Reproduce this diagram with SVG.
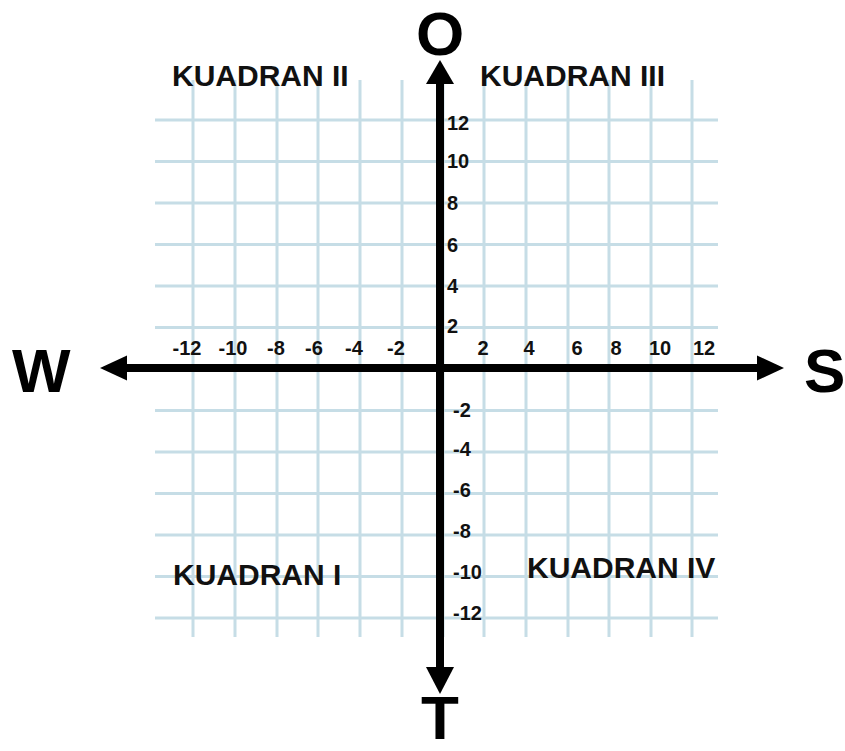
<svg xmlns="http://www.w3.org/2000/svg" width="845" height="751" viewBox="0 0 845 751">
<style>
.grid line{stroke:#c6dde6;stroke-width:3}
.axis{stroke:#000;stroke-width:8;fill:none}
.head{fill:#000}
.q{font-family:"Liberation Sans",Arial,sans-serif;font-weight:bold;font-size:30px;fill:#111}
.t{font-family:"Liberation Sans",Arial,sans-serif;font-weight:bold;font-size:20px;fill:#111}
.big{font-family:"Liberation Sans",Arial,sans-serif;font-weight:bold;font-size:62px;fill:#000}
</style>
<rect width="845" height="751" fill="#fff"/>
<g id="grid" class="grid">
<line x1="155" y1="120" x2="718" y2="120"/>
<line x1="155" y1="161.5" x2="718" y2="161.5"/>
<line x1="155" y1="203" x2="718" y2="203"/>
<line x1="155" y1="244.5" x2="718" y2="244.5"/>
<line x1="155" y1="286" x2="718" y2="286"/>
<line x1="155" y1="327.5" x2="718" y2="327.5"/>
<line x1="155" y1="369" x2="718" y2="369"/>
<line x1="155" y1="410.5" x2="718" y2="410.5"/>
<line x1="155" y1="452" x2="718" y2="452"/>
<line x1="155" y1="493.5" x2="718" y2="493.5"/>
<line x1="155" y1="535" x2="718" y2="535"/>
<line x1="155" y1="576.5" x2="718" y2="576.5"/>
<line x1="155" y1="618" x2="718" y2="618"/>
<line x1="193" y1="80" x2="193" y2="637"/>
<line x1="235" y1="80" x2="235" y2="637"/>
<line x1="277" y1="80" x2="277" y2="637"/>
<line x1="318" y1="80" x2="318" y2="637"/>
<line x1="360" y1="80" x2="360" y2="637"/>
<line x1="402" y1="80" x2="402" y2="637"/>
<line x1="443" y1="80" x2="443" y2="637"/>
<line x1="484" y1="80" x2="484" y2="637"/>
<line x1="526" y1="80" x2="526" y2="637"/>
<line x1="568" y1="80" x2="568" y2="637"/>
<line x1="609" y1="80" x2="609" y2="637"/>
<line x1="651" y1="80" x2="651" y2="637"/>
<line x1="692" y1="80" x2="692" y2="637"/>
</g>
<g id="connectors">
<line class="axis" x1="124" y1="368" x2="762" y2="368"/>
<line class="axis" x1="440" y1="80" x2="440" y2="670"/>
<polygon class="head" points="100,368 127,355.5 127,380.5"/>
<polygon class="head" points="784,368 757,355.5 757,380.5"/>
<polygon class="head" points="440,60 426,84 454,84"/>
<polygon class="head" points="440,694 426,667 454,667"/>
</g>
<g id="axis-labels">
<text class="big" x="440" y="55" text-anchor="middle" font-size="56">O</text>
<text class="big" x="12" y="392">W</text>
<text class="big" x="804" y="392">S</text>
<text class="big" x="440" y="739" text-anchor="middle" font-size="52">T</text>
</g>
<g id="quadrants">
<text class="q" x="172" y="86">KUADRAN II</text>
<text class="q" x="480" y="86">KUADRAN III</text>
<text class="q" x="173" y="585">KUADRAN I</text>
<text class="q" x="527" y="578">KUADRAN IV</text>
</g>
<g id="x-ticks" text-anchor="middle">
<text class="t" x="187" y="355">-12</text>
<text class="t" x="233" y="355">-10</text>
<text class="t" x="276" y="355">-8</text>
<text class="t" x="314" y="355">-6</text>
<text class="t" x="354" y="355">-4</text>
<text class="t" x="396" y="355">-2</text>
<text class="t" x="483" y="355">2</text>
<text class="t" x="529" y="355">4</text>
<text class="t" x="577" y="355">6</text>
<text class="t" x="616" y="355">8</text>
<text class="t" x="660" y="355">10</text>
<text class="t" x="704" y="355">12</text>
</g>
<g id="y-ticks">
<text class="t" x="447" y="130">12</text>
<text class="t" x="447" y="168">10</text>
<text class="t" x="447" y="210">8</text>
<text class="t" x="447" y="252">6</text>
<text class="t" x="447" y="293">4</text>
<text class="t" x="447" y="333">2</text>
<text class="t" x="453" y="417">-2</text>
<text class="t" x="453" y="456">-4</text>
<text class="t" x="453" y="497">-6</text>
<text class="t" x="453" y="538">-8</text>
<text class="t" x="453" y="579">-10</text>
<text class="t" x="453" y="620">-12</text>
</g>
</svg>
